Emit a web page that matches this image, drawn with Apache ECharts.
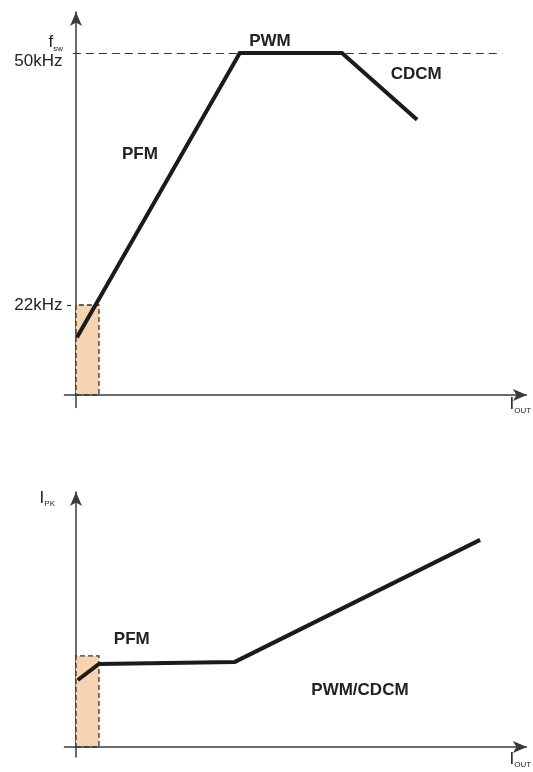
<!DOCTYPE html>
<html>
<head>
<meta charset="utf-8">
<script src="https://cdn.jsdelivr.net/npm/echarts@6/dist/echarts.min.js"></script>
<style>
  html, body { margin: 0; padding: 0; background: #fff; }
  #chart { width: 533px; height: 772px; }
</style>
</head>
<body>
<div id="chart"></div>
<script>
// Switching frequency vs. load current (upper plot)
const freqLoad = [0.2, 36.4, 59.1, 75.8];
const freqKHz = [18.4, 50, 50, 42.6];

// Peak inductor current vs. load current (lower plot)
const peakLoad = [0.4, 5.1, 35.3, 89.8];
const peakLevel = [27.0, 33.5, 34.3, 83.5];

// Frequency axis marks
const freqTicks = [22, 50];
const freqTickLabels = ['22kHz', '50kHz'];

// Light-load PFM window
const lightLoadEdge = 5.1;
const pfmFreqFloor = 22;
const pfmPeakCeiling = 36.7;

// Operating-mode names
const topModes = ['PFM', 'PWM', 'CDCM'];
const bottomModes = ['PFM', 'PWM/CDCM'];

const FONT = '"Liberation Sans", Arial, Helvetica, sans-serif';
const INK = '#1b1b1b';
const AXIS = '#3a3a3a';
const PEACH = '#f8d3b1';

const topAxisY = 12;   // frequency level where the load axis sits
const bottomAxisY = 0;
const loadAxisEnd = 100.2;

const nameRich = {
  big: { fontSize: 17, fontFamily: FONT, color: '#222', lineHeight: 18 },
  sub: { fontSize: 8, fontFamily: FONT, color: '#222', lineHeight: 18, padding: [12, 0, 0, 0] }
};

const modeLabel = {
  show: true,
  position: 'inside',
  formatter: '{b}',
  fontFamily: FONT,
  fontWeight: 'bold',
  fontSize: 17,
  color: '#222'
};

function modePoints(names, coords) {
  return names.map((n, i) => ({ name: n, coord: coords[i] }));
}

function loadAxis(grid, vAlign, pad) {
  return {
    gridIndex: grid, type: 'value', min: -3, max: 101,
    axisLine: { show: false }, axisTick: { show: false },
    axisLabel: { show: false }, splitLine: { show: false },
    name: '{big|I}{sub|OUT}', nameLocation: 'end', nameGap: -21,
    nameTextStyle: { align: 'left', verticalAlign: vAlign, padding: pad, rich: nameRich }
  };
}

const chart = echarts.init(document.getElementById('chart'), null, { renderer: 'canvas' });

chart.setOption({
  animation: false,
  backgroundColor: '#fff',
  grid: [
    { left: 62.5, top: 12, width: 468, height: 395.6, outerBoundsMode: 'none', containLabel: false },
    { left: 62.5, top: 492, width: 468, height: 264.9, outerBoundsMode: 'none', containLabel: false }
  ],
  xAxis: [
    loadAxis(0, 'middle', [0, 0, 6, 0]),
    loadAxis(1, 'top', [3, 0, 0, 0])
  ],
  yAxis: [
    {
      gridIndex: 0, type: 'value', min: 10.6, max: 54.56,
      axisLine: {
        show: true, onZero: true,
        symbol: ['none', 'arrow'], symbolSize: [9, 14],
        lineStyle: { color: AXIS, width: 1.5 }
      },
      axisTick: { show: false },
      splitLine: { show: false },
      axisLabel: {
        show: true,
        customValues: freqTicks,
        margin: 0,
        formatter: v => {
          const t = freqTickLabels[freqTicks.indexOf(v)];
          return v === 50 ? '{lo|' + t + '}' : '{n|' + t + '}';
        },
        rich: {
          n: { fontSize: 17, fontFamily: FONT, color: '#222' },
          lo: { fontSize: 17, fontFamily: FONT, color: '#222', padding: [16, 0, 0, 0] }
        }
      },
      name: '{big|f}{sub|sw}', nameLocation: 'end', nameGap: -31,
      nameTextStyle: { align: 'right', verticalAlign: 'middle', padding: [0, 13, 0, 0], rich: nameRich }
    },
    {
      gridIndex: 1, type: 'value', min: -4, max: 102.8,
      axisLine: {
        show: true, onZero: true,
        symbol: ['none', 'arrow'], symbolSize: [9, 14],
        lineStyle: { color: AXIS, width: 1.5 }
      },
      axisTick: { show: false },
      splitLine: { show: false },
      axisLabel: { show: false },
      name: '{big|I}{sub|PK}', nameLocation: 'end', nameGap: -6,
      nameTextStyle: { align: 'right', verticalAlign: 'middle', padding: [0, 21, 0, 0], rich: nameRich }
    }
  ],
  series: [
    {
      type: 'line',
      xAxisIndex: 0, yAxisIndex: 0,
      data: freqLoad.map((x, i) => [x, freqKHz[i]]),
      symbol: 'none',
      lineStyle: { color: INK, width: 4, join: 'miter' },
      z: 5,
      markArea: {
        silent: true,
        itemStyle: { color: PEACH, borderColor: '#333', borderWidth: 1.3, borderType: [5, 3] },
        data: [[{ coord: [0, topAxisY] }, { coord: [lightLoadEdge, pfmFreqFloor] }]]
      },
      markLine: {
        silent: true,
        symbol: 'none',
        label: { show: false },
        emphasis: { disabled: true },
        data: [
          // load-current axis
          [
            { coord: [-2.7, topAxisY], symbol: 'none', lineStyle: { color: AXIS, width: 1.5, type: 'solid' } },
            { coord: [loadAxisEnd, topAxisY], symbol: 'arrow', symbolSize: [9, 14] }
          ],
          // nominal switching frequency
          [
            { coord: [-0.7, freqTicks[1]], symbol: 'none', lineStyle: { color: '#333', width: 1.2, type: [8, 5] } },
            { coord: [94.7, freqTicks[1]], symbol: 'none' }
          ],
          // minimum-frequency tick
          [
            { coord: [-2.0, freqTicks[0]], symbol: 'none', lineStyle: { color: '#333', width: 1.2, type: 'solid' } },
            { coord: [-1.1, freqTicks[0]], symbol: 'none' }
          ]
        ]
      },
      markPoint: {
        silent: true,
        symbol: 'circle', symbolSize: 0,
        label: modeLabel,
        data: modePoints(topModes, [[14.2, 38.7], [43.1, 51.3], [75.6, 47.6]])
      }
    },
    {
      type: 'line',
      xAxisIndex: 1, yAxisIndex: 1,
      data: peakLoad.map((x, i) => [x, peakLevel[i]]),
      symbol: 'none',
      lineStyle: { color: INK, width: 4, join: 'miter' },
      z: 5,
      markArea: {
        silent: true,
        itemStyle: { color: PEACH, borderColor: '#333', borderWidth: 1.3, borderType: [5, 3] },
        data: [[{ coord: [0, bottomAxisY] }, { coord: [lightLoadEdge, pfmPeakCeiling] }]]
      },
      markLine: {
        silent: true,
        symbol: 'none',
        label: { show: false },
        emphasis: { disabled: true },
        data: [
          [
            { coord: [-2.7, bottomAxisY], symbol: 'none', lineStyle: { color: AXIS, width: 1.5, type: 'solid' } },
            { coord: [loadAxisEnd, bottomAxisY], symbol: 'arrow', symbolSize: [9, 14] }
          ]
        ]
      },
      markPoint: {
        silent: true,
        symbol: 'circle', symbolSize: 0,
        label: modeLabel,
        data: modePoints(bottomModes, [[12.4, 43.5], [63.1, 23.0]])
      }
    }
  ]
});
</script>
</body>
</html>
